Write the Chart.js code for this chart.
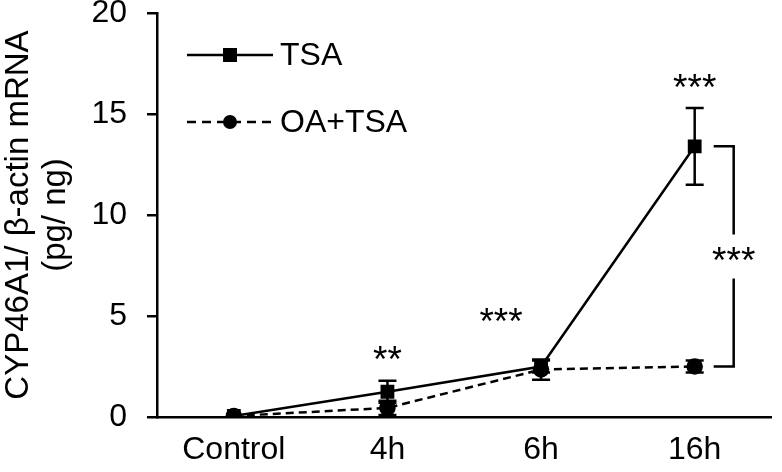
<!DOCTYPE html>
<html>
<head>
<meta charset="utf-8">
<script src="https://cdn.jsdelivr.net/npm/chart.js@4.4.0/dist/chart.umd.min.js"></script>
<style>
  html, body { margin: 0; padding: 0; background: #fff; }
  #wrap { width: 782px; height: 472px; }
</style>
</head>
<body>
<div id="wrap"><canvas id="cypChart" width="782" height="472"></canvas></div>
<script>
// data
const categories = ['Control', '4h', '6h', '16h'];
const tsaValues = [0.05, 1.25, 2.5, 13.4];
const tsaErrors = [0.2, 0.55, 0.3, 1.9];
const oaTsaValues = [0.05, 0.45, 2.35, 2.5];
const oaTsaErrors = [0.2, 0.35, 0.5, 0.3];
const yTicks = [0, 5, 10, 15, 20];

const FONT = '"Liberation Sans", Arial, sans-serif';

// error bars drawn through the scales
const errorBars = {
    id: 'errorBars',
    afterDatasetsDraw(chart) {
        const ctx = chart.ctx;
        const x = chart.scales.x, y = chart.scales.y;
        const errs = [tsaErrors, oaTsaErrors];
        ctx.save();
        ctx.strokeStyle = '#000';
        ctx.lineWidth = 2.5;
        chart.data.datasets.forEach(function (ds, di) {
            ds.data.forEach(function (v, i) {
                const e = errs[di][i];
                if (e < 0.25) return;
                const px = x.getPixelForValue(i);
                const top = y.getPixelForValue(v + e);
                const bot = y.getPixelForValue(v - e);
                ctx.beginPath();
                ctx.moveTo(px, top); ctx.lineTo(px, bot);
                ctx.moveTo(px - 9, top); ctx.lineTo(px + 9, top);
                ctx.moveTo(px - 9, bot); ctx.lineTo(px + 9, bot);
                ctx.stroke();
            });
        });
        ctx.restore();
    }
};

// significance marks and bracket
const significance = {
    id: 'significance',
    afterDraw(chart) {
        const ctx = chart.ctx;
        const x = chart.scales.x, y = chart.scales.y;
        ctx.save();
        ctx.fillStyle = '#000';
        ctx.font = '37px ' + FONT;
        ctx.textAlign = 'center';
        ctx.textBaseline = 'middle';
        ctx.fillText('**', x.getPixelForValue(1), y.getPixelForValue(2.75));
        ctx.fillText('***', x.getPixelForValue(2) - 40, y.getPixelForValue(4.6));
        ctx.fillText('***', x.getPixelForValue(3), y.getPixelForValue(16.2));

        const bx = x.getPixelForValue(3) + 39;
        const top = y.getPixelForValue(tsaValues[3]);
        const bot = y.getPixelForValue(oaTsaValues[3]);
        const mid = (top + bot) / 2;
        ctx.strokeStyle = '#000';
        ctx.lineWidth = 2.5;
        ctx.beginPath();
        ctx.moveTo(bx - 20, top); ctx.lineTo(bx, top); ctx.lineTo(bx, mid - 22);
        ctx.moveTo(bx, mid + 22); ctx.lineTo(bx, bot); ctx.lineTo(bx - 20, bot);
        ctx.stroke();
        ctx.fillText('***', bx, mid + 6);
        ctx.restore();
    }
};

// legend in the upper left
const customLegend = {
    id: 'customLegend',
    afterDraw(chart) {
        const ctx = chart.ctx;
        const rows = [
            { label: 'TSA', y: 55, dash: [], square: true },
            { label: 'OA+TSA', y: 122, dash: [9, 6], square: false }
        ];
        ctx.save();
        ctx.fillStyle = '#000';
        ctx.strokeStyle = '#000';
        ctx.lineWidth = 2.5;
        ctx.font = '32px ' + FONT;
        ctx.textBaseline = 'middle';
        rows.forEach(function (r) {
            ctx.setLineDash(r.dash);
            ctx.beginPath();
            ctx.moveTo(187, r.y); ctx.lineTo(273, r.y);
            ctx.stroke();
            ctx.setLineDash([]);
            ctx.beginPath();
            if (r.square) ctx.rect(223, r.y - 7, 14, 14);
            else ctx.arc(230, r.y, 7, 0, Math.PI * 2);
            ctx.fill();
            ctx.fillText(r.label, 280, r.y + 1);
        });
        ctx.restore();
    }
};

new Chart(document.getElementById('cypChart').getContext('2d'), {
    type: 'line',
    data: {
        labels: categories,
        datasets: [
            {
                label: 'TSA',
                data: tsaValues,
                borderColor: '#000',
                backgroundColor: '#000',
                borderWidth: 2.5,
                pointStyle: 'rect',
                pointRadius: 8,
                tension: 0
            },
            {
                label: 'OA+TSA',
                data: oaTsaValues,
                borderColor: '#000',
                backgroundColor: '#000',
                borderWidth: 2.5,
                borderDash: [8, 5],
                pointStyle: 'circle',
                pointRadius: 7,
                tension: 0
            }
        ]
    },
    options: {
        responsive: false,
        animation: false,
        layout: { padding: { top: 13, right: 1 } },
        plugins: {
            legend: { display: false },
            tooltip: { enabled: false }
        },
        scales: {
            x: {
                offset: true,
                grid: { display: false },
                border: { display: true, color: '#000', width: 2.5 },
                ticks: { color: '#000', font: { family: FONT, size: 32 }, padding: 6 },
                afterFit: function (s) { s.height = 55; }
            },
            y: {
                min: 0,
                max: 20,
                afterBuildTicks: function (s) { s.ticks = yTicks.map(function (v) { return { value: v }; }); },
                grid: { drawOnChartArea: false, drawTicks: true, tickLength: 10, color: '#000', lineWidth: 2.5 },
                border: { display: true, color: '#000', width: 2.5 },
                ticks: { color: '#000', font: { family: FONT, size: 32 }, padding: 20 },
                title: {
                    display: true,
                    text: ['CYP46A1/ \u03b2-actin mRNA', '(pg/ ng)'],
                    color: '#000',
                    font: { family: FONT, size: 33, lineHeight: 1.12 },
                    padding: { top: 0, bottom: 0 }
                },
                afterFit: function (s) {
                    s.width = 157;
                    s.paddingTop = 0;
                    s.paddingBottom = 0;
                }
            }
        }
    },
    plugins: [errorBars, significance, customLegend]
});
</script>
</body>
</html>
